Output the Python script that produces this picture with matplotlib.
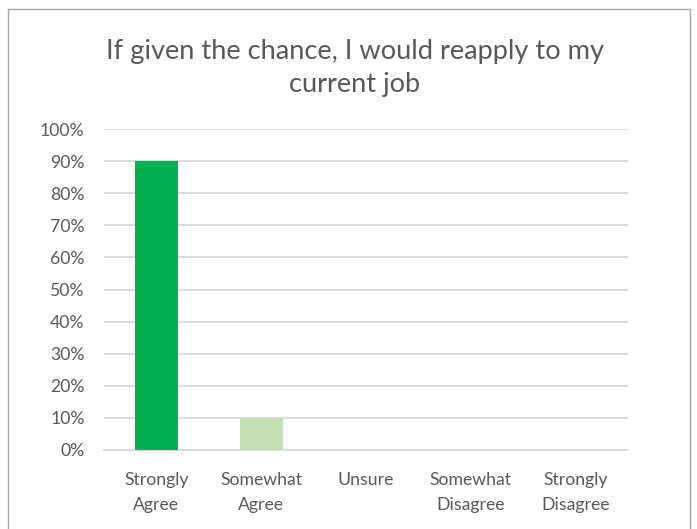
import matplotlib
matplotlib.use('Agg')
from matplotlib import pyplot as plt
from matplotlib.patches import Rectangle
from matplotlib.ticker import PercentFormatter

categories = ['Strongly\nAgree', 'Somewhat\nAgree', 'Unsure', 'Somewhat\nDisagree', 'Strongly\nDisagree']
values = [90, 10, 0, 0, 0]
bar_colors = ['#00B050', '#C5E0B4', '#00B050', '#00B050', '#00B050']
title = 'If given the chance, I would reapply to my\ncurrent job'

plt.rcParams['font.family'] = ['Lato', 'DejaVu Sans']
text_color = '#595959'

W, H = 697, 529
fig = plt.figure(figsize=(W / 100, H / 100), dpi=100)
fig.patch.set_facecolor('white')

# chart frame
fig.patches.append(Rectangle((7.5 / W, -0.01), 682.5 / W, 1 - 8.5 / H + 0.01, transform=fig.transFigure,
                             fill=False, edgecolor='#A6A6A6', linewidth=1.0))

ax = fig.add_axes([104 / W, 1 - 450 / H, 524 / W, 321 / H])
x = list(range(len(categories)))
ax.bar(x, values, width=0.41, color=bar_colors, zorder=3)

ax.set_xlim(-0.5, len(categories) - 0.5)
ax.set_ylim(0, 100)
ax.set_yticks(range(0, 101, 10))
ax.yaxis.set_major_formatter(PercentFormatter(decimals=0))
ax.set_xticks(x)
ax.set_xticklabels(categories, linespacing=1.7, va='top')
ax.grid(axis='y', color='#D9D9D9', linewidth=1.3, zorder=0)
ax.tick_params(axis='both', length=0, labelsize=12.7, colors=text_color)
ax.tick_params(axis='x', pad=16)
ax.tick_params(axis='y', pad=14)
for s in ['top', 'right', 'left']:
    ax.spines[s].set_visible(False)
ax.spines['bottom'].set_color('#D9D9D9')
ax.spines['bottom'].set_linewidth(1.3)

fig.text(355 / W, 1 - 68 / H, title, ha='center', va='center', fontsize=19.6,
         color=text_color, linespacing=1.42)

plt.savefig('out.png', dpi=100)
